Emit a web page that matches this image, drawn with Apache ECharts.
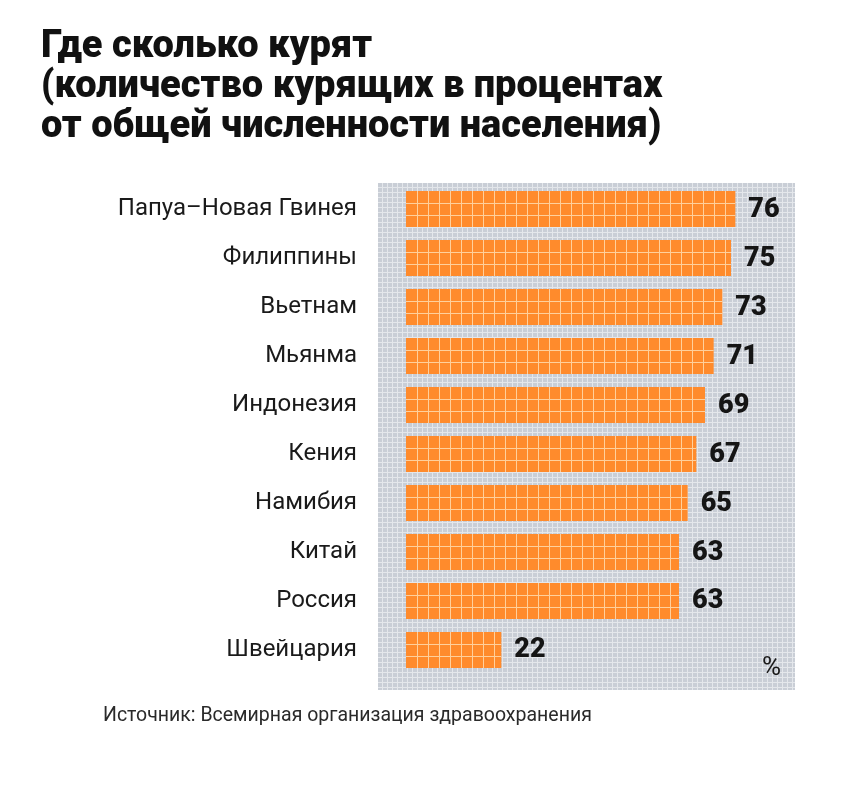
<!doctype html>
<html>
	<head>
		<meta charset="utf-8">
		<title>Где сколько курят</title>
		<style>
			html, body { margin: 0; padding: 0; background: #fff; }
		</style>
	</head>
	<body>
		<div id="container" style="height: 788px; width: 850px;"></div>

		<script src="https://cdn.jsdelivr.net/npm/echarts@6/dist/echarts.min.js"></script>

		<script>
			// data
			var countries = ['Папуа–Новая Гвинея', 'Филиппины', 'Вьетнам', 'Мьянма', 'Индонезия',
				'Кения', 'Намибия', 'Китай', 'Россия', 'Швейцария'];
			var smokers = [76, 75, 73, 71, 69, 67, 65, 63, 63, 22];

			var narrow = "'Liberation Sans Narrow', 'Arial Narrow', 'Roboto', sans-serif";
			var barColor = '#ff8b2c';
			var barLine = '#ffd09c';
			var cell = 11;

			// fine grey grid behind the bars
			function makeTile() {
				var c = document.createElement('canvas');
				c.width = 5; c.height = 5;
				var ctx = c.getContext('2d');
				ctx.fillStyle = '#c9ced6';
				ctx.fillRect(0, 0, 5, 5);
				ctx.fillStyle = '#e4e7eb';
				ctx.fillRect(0, 4, 5, 1);
				ctx.fillRect(4, 0, 1, 5);
				return c;
			}

			function renderBar(params, api) {
				var val = api.value(0);
				var end = api.coord([val, api.value(1)]);
				var start = api.coord([0, api.value(1)]);
				var h = 36;
				var x0 = start[0], y0 = Math.round(end[1] - h / 2), w = end[0] - start[0];
				var kids = [{
					type: 'rect',
					shape: { x: x0, y: y0, width: w, height: h },
					style: { fill: barColor }
				}];
				for (var x = x0 + cell; x < x0 + w - 2; x += cell) {
					kids.push({
						type: 'line',
						shape: { x1: x + 0.5, y1: y0, x2: x + 0.5, y2: y0 + h },
						style: { stroke: barLine, lineWidth: 1 }
					});
				}
				for (var k = 1; k < 3; k++) {
					var y = y0 + Math.round(h * k / 3) + 0.5;
					kids.push({
						type: 'line',
						shape: { x1: x0, y1: y, x2: x0 + w, y2: y },
						style: { stroke: barLine, lineWidth: 1 }
					});
				}
				kids.push({
					type: 'text',
					x: x0 + w + 13,
					y: end[1] + 1,
					style: {
						text: String(val),
						fill: '#151515',
						font: '900 27px ' + narrow,
						verticalAlign: 'middle'
					}
				});
				return { type: 'group', children: kids };
			}

			var myChart = echarts.init(document.getElementById('container'));

			var opts = {
				animation: false,
				title: {
					text: 'Где сколько курят\n(количество курящих в процентах\nот общей численности населения)',
					left: 36,
					top: 22,
					textStyle: {
						fontFamily: narrow,
						fontWeight: 900,
						fontSize: 38,
						lineHeight: 40,
						color: '#111'
					}
				},
				graphic: [
					{
						type: 'rect',
						left: 378,
						top: 183,
						z: -10,
						shape: { width: 417, height: 507 },
						style: { fill: { image: makeTile(), repeat: 'repeat' } }
					},
					{
						type: 'text',
						left: 762,
						top: 655,
						style: { text: '%', fill: '#1a1a1a', font: '26px ' + narrow }
					},
					{
						type: 'text',
						left: 103,
						top: 706,
						style: {
							text: 'Источник: Всемирная организация здравоохранения',
							fill: '#2a2a2a',
							font: '19.5px ' + narrow
						}
					}
				],
				grid: {
					left: 406,
					right: 54,
					top: 185,
					bottom: 114
				},
				xAxis: {
					type: 'value',
					min: 0,
					max: 90,
					show: false
				},
				yAxis: {
					type: 'category',
					data: countries,
					inverse: true,
					axisLine: { show: false },
					axisTick: { show: false },
					axisLabel: {
						margin: 49,
						fontFamily: narrow,
						fontSize: 24,
						color: '#1a1a1a'
					}
				},
				series: [
					{
						type: 'custom',
						renderItem: renderBar,
						encode: { x: 0, y: 1 },
						data: smokers.map(function (v, i) { return [v, countries[i]]; })
					}
				]
			};

			myChart.setOption(opts, true);
		</script>
	</body>
</html>
